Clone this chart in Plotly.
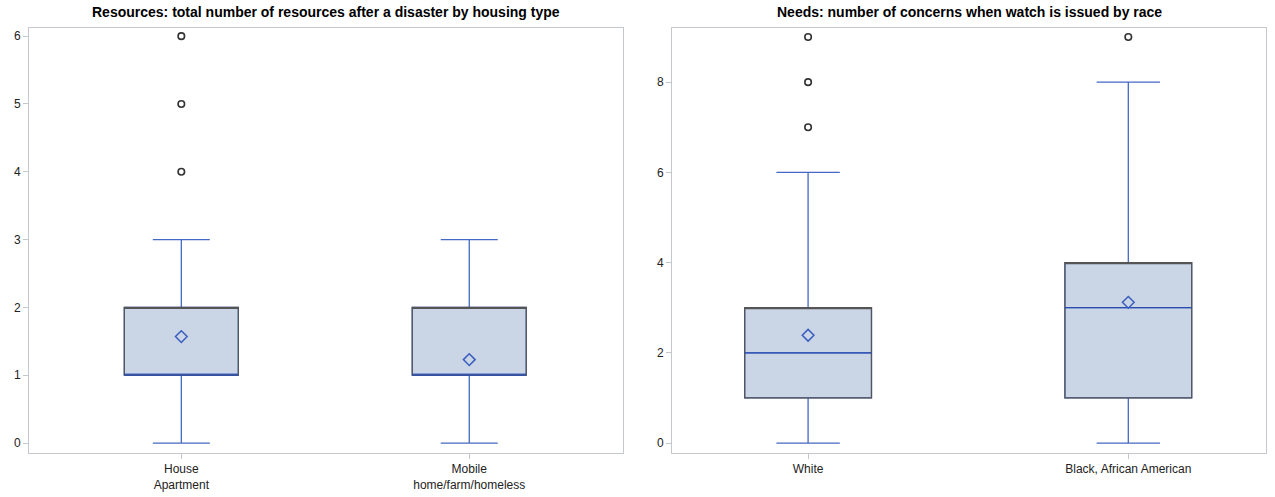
import plotly.graph_objects as go

# ---- Data ----
res_categories = ["House<br>Apartment", "Mobile<br>home/farm/homeless"]
res_q1 = [1, 1]
res_median = [1, 1]
res_q3 = [2, 2]
res_lower = [0, 0]
res_upper = [3, 3]
res_mean = [1.57, 1.23]
res_outlier_cat = ["House<br>Apartment", "House<br>Apartment", "House<br>Apartment"]
res_outlier_val = [4, 5, 6]

need_categories = ["White", "Black, African American"]
need_q1 = [1, 1]
need_median = [2, 3]
need_q3 = [3, 4]
need_lower = [0, 0]
need_upper = [6, 8]
need_mean = [2.39, 3.12]
need_outlier_cat = ["White", "White", "White", "Black, African American"]
need_outlier_val = [7, 8, 9, 9]

titles = ["Resources: total number of resources after a disaster by housing type",
          "Needs: number of concerns when watch is issued by race"]

# ---- Styles ----
FILL = "#CAD5E6"
BLUE = "#4468C4"
MEDBLUE = "#2A4DAE"
EDGE = "#555555"
FRAME = "#C4C8CC"
FONT = "Liberation Sans, Arial, sans-serif"
BOXW = 0.396

fig = go.Figure()


def add_group(xa, ya, cats, q1, med, q3, lo, hi, mean, ocat, oval):
    # full box with blue whiskers + fill
    fig.add_trace(go.Box(x=cats, q1=q1, median=med, q3=q3, lowerfence=lo, upperfence=hi,
                         fillcolor=FILL, line=dict(color=BLUE, width=1.3), width=BOXW,
                         whiskerwidth=0.5, boxpoints=False, showlegend=False,
                         xaxis=xa, yaxis=ya, hoverinfo="skip"))
    # gray box outline on top
    fig.add_trace(go.Box(x=cats, q1=q1, median=q3, q3=q3, lowerfence=q1, upperfence=q3,
                         fillcolor="rgba(0,0,0,0)", line=dict(color=EDGE, width=1.2), width=BOXW,
                         whiskerwidth=0, boxpoints=False, showlegend=False,
                         xaxis=xa, yaxis=ya, hoverinfo="skip"))
    # blue median line on top
    fig.add_trace(go.Box(x=cats, q1=med, median=med, q3=med, lowerfence=med, upperfence=med,
                         fillcolor="rgba(0,0,0,0)", line=dict(color=MEDBLUE, width=1.3), width=BOXW,
                         whiskerwidth=0, boxpoints=False, showlegend=False,
                         xaxis=xa, yaxis=ya, hoverinfo="skip"))
    # means
    fig.add_trace(go.Scatter(x=cats, y=mean, mode="markers", showlegend=False,
                             marker=dict(symbol="diamond-open", size=9, color="#3A5EBE",
                                         line=dict(width=1.5, color="#3A5EBE")),
                             xaxis=xa, yaxis=ya))
    # outliers
    fig.add_trace(go.Scatter(x=ocat, y=oval, mode="markers", showlegend=False,
                             marker=dict(symbol="circle-open", size=6.5, color="#333333",
                                         line=dict(width=1.6, color="#333333")),
                             xaxis=xa, yaxis=ya))


add_group("x", "y", res_categories, res_q1, res_median, res_q3, res_lower, res_upper,
          res_mean, res_outlier_cat, res_outlier_val)
add_group("x2", "y2", need_categories, need_q1, need_median, need_q3, need_lower, need_upper,
          need_mean, need_outlier_cat, need_outlier_val)

W, H = 1275, 497
ytop, ybot = 28, 453
axis_common = dict(showline=True, linecolor=FRAME, linewidth=1, mirror=True,
                   showgrid=False, zeroline=False, ticks="outside", ticklen=5,
                   tickcolor=FRAME, tickfont=dict(family=FONT, size=12, color="#222222"))

fig.update_layout(
    width=W, height=H,
    margin=dict(l=0, r=0, t=0, b=0),
    paper_bgcolor="white", plot_bgcolor="white",
    boxmode="overlay",
    font=dict(family=FONT),
    xaxis=dict(domain=[29 / W, 623 / W], type="category", range=[-0.529, 1.534],
               categoryorder="array", categoryarray=res_categories, anchor="y", **axis_common),
    yaxis=dict(domain=[1 - ybot / H, 1 - ytop / H], range=[-0.147, 6.12], dtick=1,
               anchor="x", **axis_common),
    xaxis2=dict(domain=[672 / W, 1266 / W], type="category", range=[-0.425, 1.43],
                categoryorder="array", categoryarray=need_categories, anchor="y2", **axis_common),
    yaxis2=dict(domain=[1 - ybot / H, 1 - ytop / H], range=[-0.22, 9.2], dtick=2,
                anchor="x2", **axis_common),
    annotations=[
        dict(text="<b>" + titles[0] + "</b>", x=(29 + 623) / 2 / W, y=1 - 12 / H,
             xref="paper", yref="paper", showarrow=False, xanchor="center", yanchor="middle",
             font=dict(family=FONT, size=14, color="black")),
        dict(text="<b>" + titles[1] + "</b>", x=(672 + 1266) / 2 / W, y=1 - 12 / H,
             xref="paper", yref="paper", showarrow=False, xanchor="center", yanchor="middle",
             font=dict(family=FONT, size=14, color="black")),
    ],
)

fig.write_html("out.html", config={"displayModeBar": False},
               post_script="document.body.style.margin='0';document.body.style.overflow='hidden';")
